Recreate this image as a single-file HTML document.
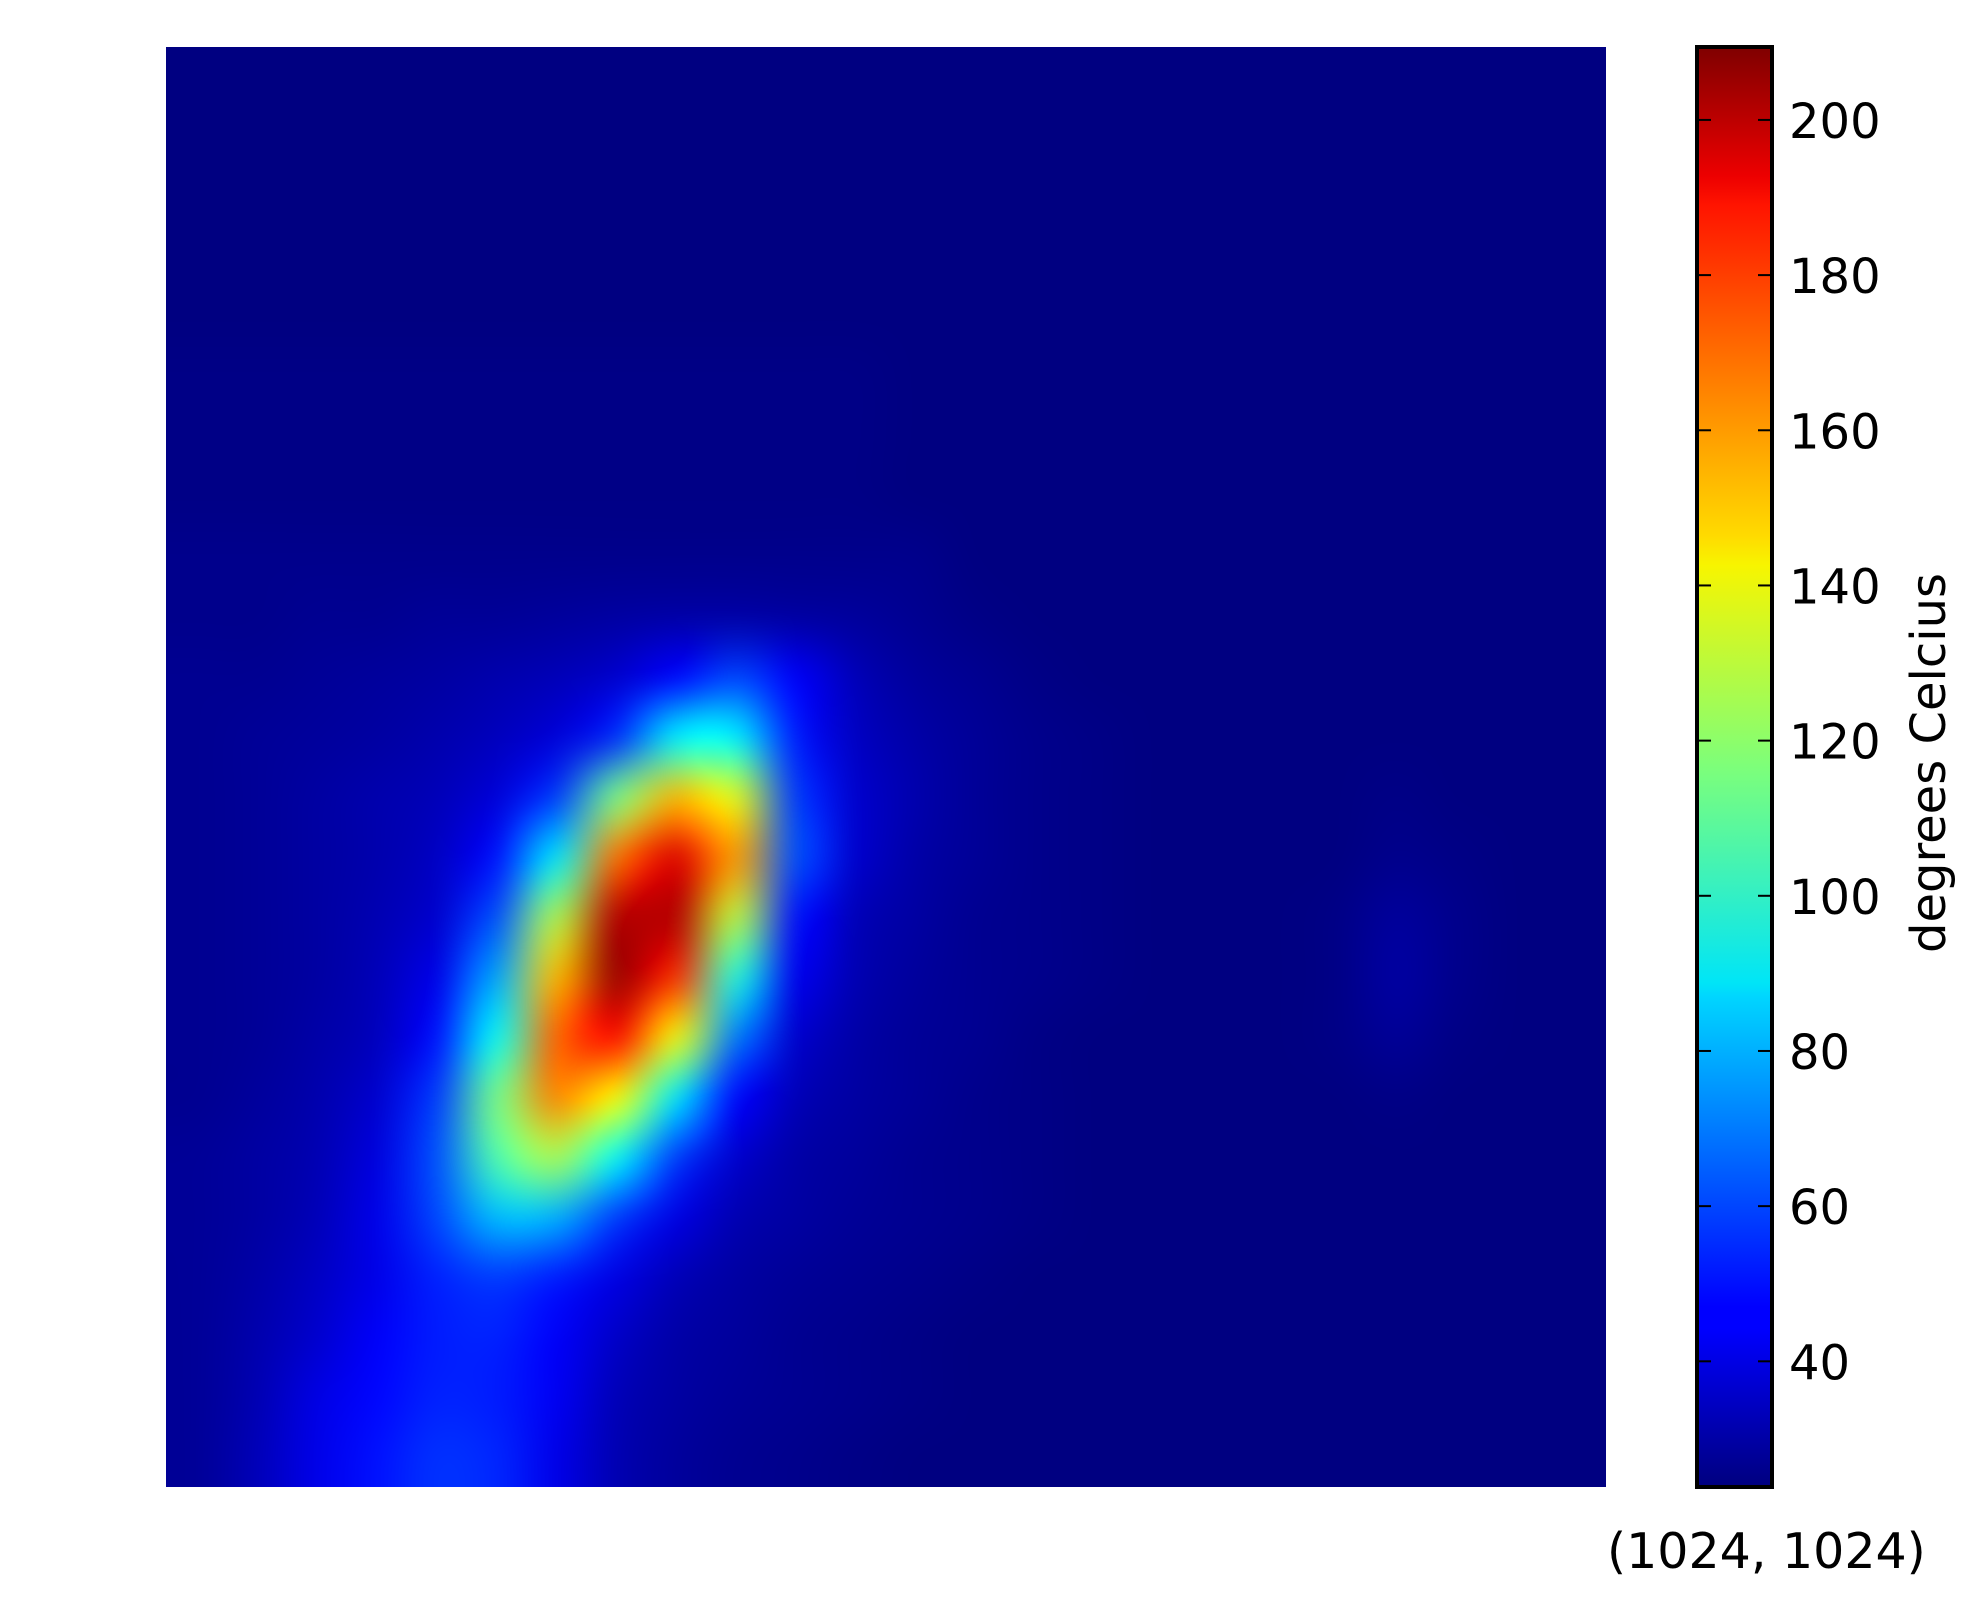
<!DOCTYPE html>
<html><head><meta charset="utf-8">
<style>
html,body{margin:0;padding:0;background:#fff;}
#wrap{position:relative;width:1974px;height:1597px;overflow:hidden;}
#heat{position:absolute;left:166px;top:47px;}
svg{position:absolute;left:0;top:0;}
text{font-family:"DejaVu Sans","Liberation Sans",sans-serif;font-size:48px;fill:#000;}
</style></head>
<body>
<div id="wrap">
<canvas id="heat" width="1440" height="1440"></canvas>
<svg id="ov" width="1974" height="1597">
  <defs><linearGradient id="jet" x1="0" y1="1" x2="0" y2="0">
    <stop offset="0" stop-color="#00007f"/><stop offset="0.11" stop-color="#0000ff"/>
    <stop offset="0.125" stop-color="#0000ff"/><stop offset="0.34" stop-color="#00d5ff"/>
    <stop offset="0.35" stop-color="#00e5f7"/><stop offset="0.5" stop-color="#7dff7a"/>
    <stop offset="0.64" stop-color="#f7f500"/><stop offset="0.66" stop-color="#ffdb00"/>
    <stop offset="0.89" stop-color="#ff1400"/><stop offset="0.91" stop-color="#ed0000"/>
    <stop offset="1" stop-color="#7f0000"/></linearGradient></defs>
  <rect x="1697" y="47" width="75" height="1440" fill="url(#jet)"/>
  <g id="ticks"></g>
  <rect x="1697" y="47" width="75" height="1440" fill="none" stroke="#000" stroke-width="4"/>
  <text x="1945" y="763" text-anchor="middle" transform="rotate(-90 1945 763)">degrees Celcius</text>
  <text x="1607" y="1568" style="font-size:49px">(1024, 1024)</text>
</svg>
</div>
<script>
const vmin = 23.8, vmax = 209.4;
const tickValues = [40, 60, 80, 100, 120, 140, 160, 180, 200];
const gridRows = [
[24,24,24,24,24,24,24,24,24,24,24,24,24,24,24,24,24,24,24,24,24,24,24,24],
[24,24,24,24,24,24,24,24,24,24,24,24,24,24,24,24,24,24,24,24,24,24,24,24],
[24,24,24,24,24,24,24,24,24,24,24,24,24,24,24,24,24,24,24,24,24,24,24,24],
[24,24,24,24,24,24,24,24,24,24,24,24,24,24,24,24,24,24,24,24,24,24,24,24],
[24,24,24,24,24,24,24,24,24,24,24,24,24,24,24,24,24,24,24,24,24,24,24,24],
[25,25,25,25,25,25,25,25,25,25,25,25,24,24,24,24,24,24,24,24,24,24,24,24],
[25,25,25,25,25,25,25,25,25,25,25,25,24,24,24,24,24,24,24,24,24,24,24,24],
[25,25,25,25,25,25,25,25,25,25,25,25,24,24,24,24,24,24,24,24,24,24,24,24],
[26,26,26,26,26,26,26,26,26,26,26,26,26,24,24,24,24,24,24,24,24,24,24,24],
[26,26,27,27,28,28,29,30,31,31,30,29,27,25,24,24,24,24,24,24,24,24,24,24],
[27,27,28,29,30,32,34,38,48,60,46,34,29,27,25,24,24,24,24,24,24,24,24,24],
[27,28,29,30,32,35,40,55,92,92,52,36,31,28,26,25,24,24,24,24,24,24,24,24],
[27,28,30,32,34,40,58,115,152,135,58,38,32,28,26,25,24,24,24,24,25,24,24,24],
[27,28,30,32,36,50,90,165,192,158,62,38,31,28,26,25,24,24,24,24,26,25,24,24],
[27,28,30,33,38,62,125,200,200,128,50,34,30,27,26,25,24,24,24,25,29,26,24,24],
[27,28,30,34,43,78,152,205,178,100,44,33,29,27,26,25,24,24,24,25,30,26,24,24],
[27,28,31,35,50,95,168,185,138,70,38,31,28,27,25,24,24,24,24,25,28,25,24,24],
[27,29,32,38,58,115,162,140,90,48,34,30,28,26,25,24,24,24,24,24,25,24,24,24],
[28,30,33,41,62,108,125,95,58,38,31,29,27,26,25,24,24,24,24,24,24,24,24,24],
[28,30,34,43,60,82,80,58,42,33,30,28,27,26,25,24,24,24,24,24,24,24,24,24],
[28,31,36,43,53,58,52,42,34,30,28,27,26,25,24,24,24,24,24,24,24,24,24,24],
[28,32,38,46,52,53,46,37,31,29,27,26,25,24,24,24,24,24,24,24,24,24,24,24],
[28,33,42,48,53,52,45,34,30,28,27,26,25,24,24,24,24,24,24,24,24,24,24,24],
[28,34,43,50,56,54,43,33,29,27,26,25,24,24,24,24,24,24,24,24,24,24,24,24]
];
function clamp(v){return Math.max(0,Math.min(1,v));}
function jet(v){
  const x = clamp((v - vmin)/(vmax - vmin));
  return [clamp(1.5-Math.abs(4*x-3)), clamp(1.5-Math.abs(4*x-2)), clamp(1.5-Math.abs(4*x-1))].map(c=>Math.round(c*255));
}
const nr = gridRows.length, nc = gridRows[0].length;
const small = document.createElement('canvas');
small.width = nc; small.height = nr;
const sctx = small.getContext('2d');
const img = sctx.createImageData(nc, nr);
for (let r=0;r<nr;r++) for (let c=0;c<nc;c++){
  const col = jet(gridRows[r][c]); const i=(r*nc+c)*4;
  img.data[i]=col[0]; img.data[i+1]=col[1]; img.data[i+2]=col[2]; img.data[i+3]=255;
}
sctx.putImageData(img,0,0);
const ctx = document.getElementById('heat').getContext('2d');
ctx.imageSmoothingEnabled = true;
ctx.imageSmoothingQuality = 'high';
ctx.drawImage(small, 0, 0, 1440, 1440);

const NS='http://www.w3.org/2000/svg';
const cbTop=47, cbBot=1487;
function cbY(v){return cbBot - (v - vmin)/(vmax - vmin)*(cbBot-cbTop);}
const g=document.getElementById('ticks');
tickValues.forEach(v=>{
  const y=cbY(v);
  const t1=document.createElementNS(NS,'line');
  t1.setAttribute('x1',1697);t1.setAttribute('x2',1711);t1.setAttribute('y1',y);t1.setAttribute('y2',y);
  t1.setAttribute('stroke','#000');t1.setAttribute('stroke-width','2');
  
  
  g.appendChild(t1);
  const t2=document.createElementNS(NS,'line');
  t2.setAttribute('x1',1758);t2.setAttribute('x2',1772);t2.setAttribute('y1',y);t2.setAttribute('y2',y);
  t2.setAttribute('stroke','#000');t2.setAttribute('stroke-width','2');
  
  
  g.appendChild(t2);
  const tx=document.createElementNS(NS,'text');
  tx.setAttribute('x',1789);tx.setAttribute('y',y+18);
  tx.textContent=String(v);
  
  
  g.appendChild(tx);
});
</script>
</body></html>
